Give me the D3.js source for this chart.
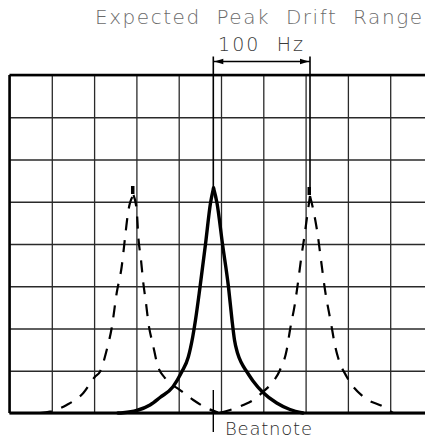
<!DOCTYPE html>
<html>
<head>
<meta charset="utf-8">
<script src="https://cdn.jsdelivr.net/npm/d3@7"></script>
<style>
  html, body { margin: 0; padding: 0; background: #fff; }
  svg { display: block; }
  text { font-family: "DejaVu Sans", "Liberation Sans", sans-serif; font-weight: 200; white-space: pre; }
</style>
</head>
<body>
<div id="chart"></div>
<script>
// ---- data (x in horizontal divisions 0..10, y in vertical divisions 0..8) ----
const xDivisions = d3.range(0, 11);
const yDivisions = d3.range(0, 9);

// solid trace: current beatnote peak
const solidX = [2.565, 2.683, 3.007, 3.322, 3.558, 3.865, 4.071, 4.227, 4.331, 4.397, 4.504, 4.634, 4.752, 4.823,
                4.905, 5.035, 5.177, 5.260, 5.319, 5.390, 5.485, 5.615, 5.757, 5.993, 6.317, 6.631, 6.939];
const solidY = [0.000, 0.007, 0.059, 0.189, 0.367, 0.622, 0.970, 1.325, 1.799, 2.201, 2.982, 4.000, 4.970, 5.325,
                4.970, 4.000, 2.982, 2.201, 1.728, 1.420, 1.183, 0.970, 0.757, 0.485, 0.237, 0.083, 0.000];

// dashed trace: peak drifted low
const lowX = [0.721, 0.957, 1.352, 1.745, 2.021, 2.139, 2.298, 2.416, 2.534, 2.652, 2.747, 2.801, 2.931,
              3.007, 3.045, 3.109, 3.163, 3.227, 3.284, 3.393, 3.499, 3.676, 4.031, 4.345, 4.661, 4.928];
const lowY = [0.000, 0.031, 0.189, 0.473, 0.859, 0.978, 1.491, 2.012, 2.840, 3.462, 4.291, 4.734, 5.160,
              4.805, 4.173, 3.621, 3.077, 2.604, 2.130, 1.609, 1.136, 0.828, 0.544, 0.308, 0.118, 0.012];

// dashed trace: peak drifted high
const highX = [4.976, 5.213, 5.527, 5.764, 6.000, 6.199, 6.395, 6.553, 6.631, 6.749, 6.828, 6.899, 6.970, 7.057, 7.104,
               7.182, 7.293, 7.364, 7.459, 7.600, 7.693, 7.764, 7.972, 8.364, 8.837, 9.066];
const highY = [0.007, 0.071, 0.189, 0.308, 0.505, 0.703, 1.018, 1.491, 1.964, 2.596, 3.148, 3.692, 4.166, 4.805, 5.136,
               4.805, 4.173, 3.621, 2.911, 2.130, 1.609, 1.325, 0.859, 0.384, 0.148, 0.000];

// annotations
const titleText = "Expected  Peak  Drift  Range";
const spanText = "100  Hz";
const beatText = "Beatnote";
const spanFrom = 4.818, spanTo = 7.104;   // divisions: left and right peak markers
const beatAt = 4.818;

// ---- layout ----
const W = 425, H = 444;
const plot = { left: 9.5, top: 75, width: 423, height: 338 };

const svg = d3.select("#chart").append("svg").attr("width", W).attr("height", H);

const x = d3.scaleLinear().domain([0, 10]).range([plot.left, plot.left + plot.width]);
const y = d3.scaleLinear().domain([0, 8]).range([plot.top + plot.height, plot.top]);

// grid
const gx = svg.append("g")
  .attr("transform", `translate(0,${plot.top + plot.height})`)
  .call(d3.axisBottom(x).tickValues(xDivisions).tickSize(-plot.height).tickFormat(""));
gx.select(".domain").remove();
gx.selectAll("line").attr("stroke", "#2a2a2a").attr("stroke-width", 1.3);

const gy = svg.append("g")
  .attr("transform", `translate(${plot.left},0)`)
  .call(d3.axisLeft(y).tickValues(yDivisions).tickSize(-plot.width).tickFormat(""));
gy.select(".domain").remove();
gy.selectAll("line").attr("stroke", "#2a2a2a").attr("stroke-width", 1.3);

// frame (top, bottom, left)
svg.append("line").attr("x1", x(0)).attr("x2", x(10)).attr("y1", y(8)).attr("y2", y(8))
  .attr("stroke", "#000").attr("stroke-width", 2.5);
svg.append("line").attr("x1", x(0)).attr("x2", x(10)).attr("y1", y(0)).attr("y2", y(0))
  .attr("stroke", "#000").attr("stroke-width", 3);
svg.append("line").attr("x1", x(0)).attr("x2", x(0)).attr("y1", y(8)).attr("y2", y(0))
  .attr("stroke", "#000").attr("stroke-width", 2.5);

// traces
function halves(xs, ys) {
  const pts = xs.map((v, i) => [v, ys[i]]);
  const k = d3.maxIndex(ys);
  return [pts.slice(0, k + 1), pts.slice(k)];
}
const line = d3.line().x(d => x(d[0])).y(d => y(d[1])).curve(d3.curveMonotoneX);

function drawTrace(xs, ys, attrs) {
  halves(xs, ys).forEach(seg => {
    const p = svg.append("path").attr("d", line(seg)).attr("fill", "none");
    Object.entries(attrs).forEach(([k, v]) => p.attr(k, v));
  });
}
drawTrace(lowX, lowY, { stroke: "#000", "stroke-width": 2.2, "stroke-dasharray": "12,10" });
drawTrace(highX, highY, { stroke: "#000", "stroke-width": 2.2, "stroke-dasharray": "12,10" });
drawTrace(solidX, solidY, { stroke: "#000", "stroke-width": 3.4, "stroke-linecap": "round" });

// peak markers on drifted peaks
[[lowX, lowY], [highX, highY]].forEach(([xs, ys]) => {
  const k = d3.maxIndex(ys);
  svg.append("rect")
    .attr("x", x(xs[k]) - 2.5).attr("y", y(ys[k]) - 9)
    .attr("width", 3.5).attr("height", 8).attr("fill", "#000");
});

// drift range annotation
const barTop = 56.5, arrowY = 61.5;
const solidPeak = d3.max(solidY), highPeak = d3.max(highY);
svg.append("line").attr("x1", x(spanFrom)).attr("x2", x(spanFrom))
  .attr("y1", barTop).attr("y2", y(solidPeak)).attr("stroke", "#000").attr("stroke-width", 1.6);
svg.append("line").attr("x1", x(spanTo)).attr("x2", x(spanTo))
  .attr("y1", barTop).attr("y2", y(highPeak) - 6).attr("stroke", "#000").attr("stroke-width", 1.6);
svg.append("line").attr("x1", x(spanFrom)).attr("x2", x(spanTo))
  .attr("y1", arrowY).attr("y2", arrowY).attr("stroke", "#000").attr("stroke-width", 1.6);
const a0 = x(spanFrom) + 1, a1 = x(spanTo) - 1;
svg.append("path").attr("d", `M${a0},${arrowY} L${a0 + 9},${arrowY - 2.8} L${a0 + 9},${arrowY + 2.8} Z`).attr("fill", "#000");
svg.append("path").attr("d", `M${a1},${arrowY} L${a1 - 9},${arrowY - 2.8} L${a1 - 9},${arrowY + 2.8} Z`).attr("fill", "#000");

svg.append("text").attr("x", 95).attr("y", 23.5)
  .attr("font-size", 20).attr("fill", "#6a6a6a")
  .attr("textLength", 327).attr("lengthAdjust", "spacing")
  .text(titleText);

svg.append("text").attr("x", 218).attr("y", 50.5)
  .attr("font-size", 19).attr("fill", "#3a3a3a")
  .attr("textLength", 85).attr("lengthAdjust", "spacing")
  .text(spanText);

// beatnote marker
svg.append("line").attr("x1", x(beatAt)).attr("x2", x(beatAt))
  .attr("y1", 390).attr("y2", 432).attr("stroke", "#000").attr("stroke-width", 1.4);
svg.append("text").attr("x", 225).attr("y", 435)
  .attr("font-size", 18).attr("fill", "#2a2a2a")
  .attr("textLength", 87).attr("lengthAdjust", "spacing")
  .text(beatText);
</script>
</body>
</html>
